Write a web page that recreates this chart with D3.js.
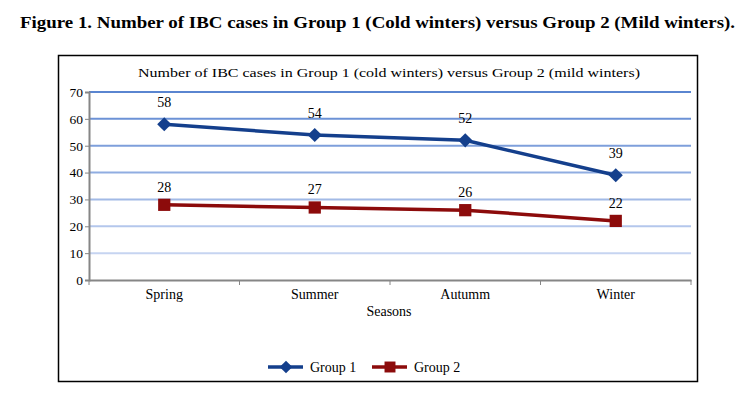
<!DOCTYPE html>
<html>
<head>
<meta charset="utf-8">
<script src="https://cdn.jsdelivr.net/npm/d3@7"></script>
<style>
  body { margin: 0; background: #fff; }
  svg text { font-family: "Liberation Serif", "DejaVu Serif", serif; fill: #000; }
</style>
</head>
<body>
<script>
var seasons = ['Spring', 'Summer', 'Autumm', 'Winter'],
    group1 = [58, 54, 52, 39],
    group2 = [28, 27, 26, 22],
    yTicks = [0, 10, 20, 30, 40, 50, 60, 70];

var W = 746, H = 398;
var plot = { left: 89, right: 691, top: 92, bottom: 280 };
var serif = '"Liberation Serif", "DejaVu Serif", serif';

var svg = d3.select('body').append('svg')
    .attr('width', W)
    .attr('height', H)
    .attr('font-family', serif);

// figure caption
svg.append('text')
    .attr('x', 20).attr('y', 28)
    .attr('textLength', 715).attr('lengthAdjust', 'spacingAndGlyphs')
    .style('font-size', '17px').style('font-weight', 'bold')
    .text('Figure 1. Number of IBC cases in Group 1 (Cold winters) versus Group 2 (Mild winters).');

// chart frame
svg.append('rect')
    .attr('x', 58.5).attr('y', 55.5)
    .attr('width', 639).attr('height', 326)
    .attr('fill', 'none').attr('stroke', '#000').attr('stroke-width', 1.5);

svg.append('text')
    .attr('x', 389).attr('y', 77)
    .attr('text-anchor', 'middle')
    .attr('textLength', 502).attr('lengthAdjust', 'spacingAndGlyphs')
    .style('font-size', '13.5px')
    .text('Number of IBC cases in Group 1 (cold winters) versus Group 2 (mild winters)');

var x = d3.scaleBand()
    .domain(seasons)
    .range([plot.left, plot.right]);

var y = d3.scaleLinear()
    .domain([0, 70])
    .range([plot.bottom, plot.top]);

var gridColor = d3.scaleLinear()
    .domain([70, 10])
    .range(['#5a85d0', '#c6d4f1']);

// gridlines
svg.append('g')
    .selectAll('line')
    .data(yTicks.filter(function(d) { return d > 0; }))
    .enter().append('line')
     .attr('x1', plot.left).attr('x2', plot.right)
     .attr('y1', function(d) { return y(d); })
     .attr('y2', function(d) { return y(d); })
     .attr('stroke', function(d) { return gridColor(d); })
     .attr('stroke-width', 2);

// y axis
var yAxis = d3.axisLeft(y).tickValues(yTicks).tickSize(4).tickPadding(2);
var gy = svg.append('g')
    .attr('transform', 'translate(' + plot.left + ',0)')
    .call(yAxis)
    .attr('font-family', serif)
    .attr('font-size', 13.5);
gy.select('.domain').attr('stroke', '#868686').attr('stroke-width', 2);
gy.selectAll('.tick line').attr('stroke', '#868686');
gy.selectAll('.tick text').attr('fill', '#000');

// x axis
var xAxis = d3.axisBottom(x).tickSize(0).tickPadding(9);
var gx = svg.append('g')
    .attr('transform', 'translate(0,' + plot.bottom + ')')
    .call(xAxis)
    .attr('font-family', serif)
    .attr('font-size', 14);
gx.select('.domain').attr('stroke', '#868686').attr('stroke-width', 2);
gx.selectAll('.tick text').attr('fill', '#000');
// tick marks at category boundaries
gx.selectAll('.bound')
    .data(seasons.concat(['end']))
    .enter().append('line')
     .attr('class', 'bound')
     .attr('x1', function(d, i) { return plot.left + i * x.bandwidth(); })
     .attr('x2', function(d, i) { return plot.left + i * x.bandwidth(); })
     .attr('y1', 0).attr('y2', 5)
     .attr('stroke', '#868686');

svg.append('text')
    .attr('x', 389).attr('y', 316)
    .attr('text-anchor', 'middle')
    .style('font-size', '14px')
    .text('Seasons');

var series = [
    { name: 'Group 1', values: group1, color: '#143f8c', rot: 45, size: 100, lab: 22 },
    { name: 'Group 2', values: group2, color: '#8c0b0b', rot: 0, size: 150, lab: 18 }
];

var line = d3.line()
    .x(function(d, i) { return x(seasons[i]) + x.bandwidth() / 2; })
    .y(function(d) { return y(d); });

series.forEach(function(s) {
    svg.append('path')
        .datum(s.values)
        .attr('d', line)
        .attr('fill', 'none')
        .attr('stroke', s.color)
        .attr('stroke-width', 3.5);

    svg.append('g').selectAll('path')
        .data(s.values)
        .enter().append('path')
         .attr('d', d3.symbol().type(d3.symbolSquare).size(s.size))
         .attr('transform', function(d, i) {
             return 'translate(' + (x(seasons[i]) + x.bandwidth() / 2) + ',' + y(d) + ') rotate(' + s.rot + ')';
         })
         .attr('fill', s.color);

    svg.append('g').selectAll('text')
        .data(s.values)
        .enter().append('text')
         .attr('x', function(d, i) { return x(seasons[i]) + x.bandwidth() / 2; })
         .attr('y', function(d) { return y(d) - s.lab + 5; })
         .attr('text-anchor', 'middle')
         .style('font-size', '14px')
         .text(function(d) { return d; });
});

// legend
var legend = svg.append('g').attr('transform', 'translate(0,367)');
var lx = [268, 372];
series.forEach(function(s, i) {
    var g = legend.append('g').attr('transform', 'translate(' + lx[i] + ',0)');
    g.append('line')
        .attr('x1', 0).attr('x2', 35)
        .attr('stroke', s.color).attr('stroke-width', 3.5);
    g.append('path')
        .attr('d', d3.symbol().type(d3.symbolSquare).size(s.size * 0.8))
        .attr('transform', 'translate(18,0) rotate(' + s.rot + ')')
        .attr('fill', s.color);
    g.append('text')
        .attr('x', 42).attr('y', 5)
        .style('font-size', '14px')
        .text(s.name);
});
</script>
</body>
</html>
